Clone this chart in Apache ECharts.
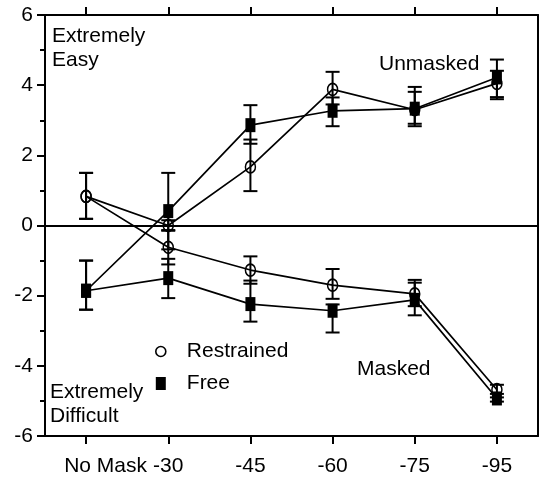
<!DOCTYPE html>
<html>
<head>
<meta charset="utf-8">
<script src="https://cdn.jsdelivr.net/npm/echarts@6/dist/echarts.min.js"></script>
<style>
html,body{margin:0;padding:0;background:#fff;}
#chart{width:539px;height:478px;}
</style>
</head>
<body>
<div id="chart"></div>
<script>
// ---- data ----
const categories = ['No Mask', '-30', '-45', '-60', '-75', '-95'];

const unmaskedRestrained     = [0.83, 0.00, 1.67, 3.88, 3.30, 4.05];
const unmaskedRestrainedLow  = [0.19, -0.15, 0.98, 3.45, 2.90, 3.60];
const unmaskedRestrainedHigh = [1.50, 0.15, 2.45, 4.38, 3.81, 4.41];

const unmaskedFree     = [-1.86, 0.41, 2.86, 3.27, 3.33, 4.22];
const unmaskedFreeLow  = [-2.40, -0.68, 2.33, 2.83, 2.83, 3.66];
const unmaskedFreeHigh = [-1.00, 1.50, 3.43, 3.65, 3.95, 4.73];

const maskedRestrained     = [0.83, -0.62, -1.27, -1.70, -1.95, -4.68];
const maskedRestrainedLow  = [0.19, -1.11, -1.66, -2.09, -2.30, -4.90];
const maskedRestrainedHigh = [1.50, -0.13, -0.88, -1.24, -1.55, -4.54];

const maskedFree     = [-1.86, -1.50, -2.24, -2.43, -2.12, -4.93];
const maskedFreeLow  = [-2.40, -2.07, -2.74, -3.05, -2.56, -5.02];
const maskedFreeHigh = [-1.00, -0.95, -1.57, -2.25, -1.63, -4.80];

const yMin = -6, yMax = 6, yInterval = 2;

// ---- chart ----
const FONT = "'Liberation Sans', Arial, Helvetica, sans-serif";
const chart = echarts.init(document.getElementById('chart'), null, {renderer: 'canvas'});

function errorSeries(low, high) {
  return {
    type: 'custom',
    silent: true,
    z: 2,
    data: categories.map((c, i) => [i, low[i], high[i]]),
    encode: {x: 0, y: [1, 2]},
    renderItem: function (params, api) {
      const x = api.value(0);
      const pLo = api.coord([x, api.value(1)]);
      const pHi = api.coord([x, api.value(2)]);
      const hw = 7;
      const st = {stroke: '#000', lineWidth: 2, fill: null};
      return {
        type: 'group',
        children: [
          {type: 'line', shape: {x1: pLo[0], y1: pLo[1], x2: pHi[0], y2: pHi[1]}, style: st},
          {type: 'line', shape: {x1: pLo[0] - hw, y1: pLo[1], x2: pLo[0] + hw, y2: pLo[1]}, style: st},
          {type: 'line', shape: {x1: pHi[0] - hw, y1: pHi[1], x2: pHi[0] + hw, y2: pHi[1]}, style: st}
        ]
      };
    }
  };
}

const circleStyle = {color: 'transparent', borderColor: '#000', borderWidth: 1.6};
const squareStyle = {color: '#000', borderColor: '#000', borderWidth: 0};

function lineSeries(name, data, isCircle) {
  return {
    name: name,
    type: 'line',
    data: data,
    z: 3,
    symbol: isCircle ? 'circle' : 'rect',
    symbolSize: isCircle ? [10, 12] : [10, 14],
    itemStyle: isCircle ? circleStyle : squareStyle,
    lineStyle: {color: '#000', width: 1.7},
    emphasis: {disabled: true},
    silent: true
  };
}

const tickStyle = {color: '#000', width: 2};

const xAxisData = categories.map((c, i) => i === 0
  ? {value: c, textStyle: {padding: [0, 0, 0, 39]}}
  : c);

const option = {
  animation: false,
  backgroundColor: '#fff',
  textStyle: {fontFamily: FONT},
  grid: {left: 45, right: 1, top: 15, bottom: 42, containLabel: false},
  legend: {
    orient: 'vertical',
    left: 150,
    top: 336,
    itemWidth: 10,
    itemHeight: 13,
    itemGap: 11,
    selectedMode: false,
    textStyle: {fontSize: 21, color: '#000', fontFamily: FONT, padding: [0, 0, 0, 16]},
    data: [
      {name: 'Restrained', icon: 'circle', itemStyle: {color: 'transparent', borderColor: '#000', borderWidth: 1.6}},
      {name: 'Free', icon: 'rect', itemStyle: {color: '#000', borderWidth: 0}}
    ]
  },
  xAxis: [
    {
      type: 'category',
      data: xAxisData,
      boundaryGap: true,
      position: 'bottom',
      axisLine: {show: true, onZero: false, lineStyle: {color: '#000', width: 2}},
      axisTick: {show: true, alignWithLabel: true, length: 8, inside: false, lineStyle: tickStyle},
      axisLabel: {color: '#000', fontSize: 21, fontFamily: FONT, margin: 20, interval: 0},
      splitLine: {show: false}
    },
    {
      type: 'category',
      data: categories,
      boundaryGap: true,
      position: 'top',
      axisLine: {show: true, onZero: false, lineStyle: {color: '#000', width: 2}},
      axisTick: {show: true, alignWithLabel: true, length: 8, inside: false, lineStyle: tickStyle},
      axisLabel: {show: false},
      splitLine: {show: false}
    }
  ],
  yAxis: [
    {
      type: 'value',
      min: yMin,
      max: yMax,
      interval: yInterval,
      position: 'left',
      axisLine: {show: true, onZero: false, lineStyle: {color: '#000', width: 2}},
      axisTick: {show: true, length: 8, inside: false, lineStyle: tickStyle},
      minorTick: {show: true, splitNumber: 2, length: 5, lineStyle: {color: '#000', width: 2}},
      axisLabel: {color: '#000', fontSize: 21, fontFamily: FONT, margin: 12},
      splitLine: {show: false}
    },
    {
      type: 'value',
      min: yMin,
      max: yMax,
      interval: yInterval,
      position: 'right',
      axisLine: {show: true, onZero: false, lineStyle: {color: '#000', width: 2}},
      axisTick: {show: false},
      axisLabel: {show: false},
      splitLine: {show: false}
    }
  ],
  graphic: [
    {type: 'text', left: 52, top: 24, style: {text: 'Extremely\nEasy', font: '21px ' + FONT, lineHeight: 24, fill: '#000'}},
    {type: 'text', left: 50, top: 380, style: {text: 'Extremely\nDifficult', font: '21px ' + FONT, lineHeight: 24, fill: '#000'}},
    {type: 'text', left: 379, top: 52, style: {text: 'Unmasked', font: '21px ' + FONT, lineHeight: 24, fill: '#000'}},
    {type: 'text', left: 357, top: 357, style: {text: 'Masked', font: '21px ' + FONT, lineHeight: 24, fill: '#000'}}
  ],
  series: [
    {
      type: 'line',
      data: [],
      silent: true,
      markLine: {
        silent: true,
        symbol: 'none',
        label: {show: false},
        lineStyle: {color: '#000', width: 2, type: 'solid'},
        data: [{yAxis: 0}]
      }
    },
    errorSeries(unmaskedRestrainedLow, unmaskedRestrainedHigh),
    errorSeries(unmaskedFreeLow, unmaskedFreeHigh),
    errorSeries(maskedRestrainedLow, maskedRestrainedHigh),
    errorSeries(maskedFreeLow, maskedFreeHigh),
    lineSeries('Restrained', unmaskedRestrained, true),
    lineSeries('Free', unmaskedFree, false),
    lineSeries('Restrained', maskedRestrained, true),
    lineSeries('Free', maskedFree, false)
  ]
};

chart.setOption(option);
</script>
</body>
</html>
